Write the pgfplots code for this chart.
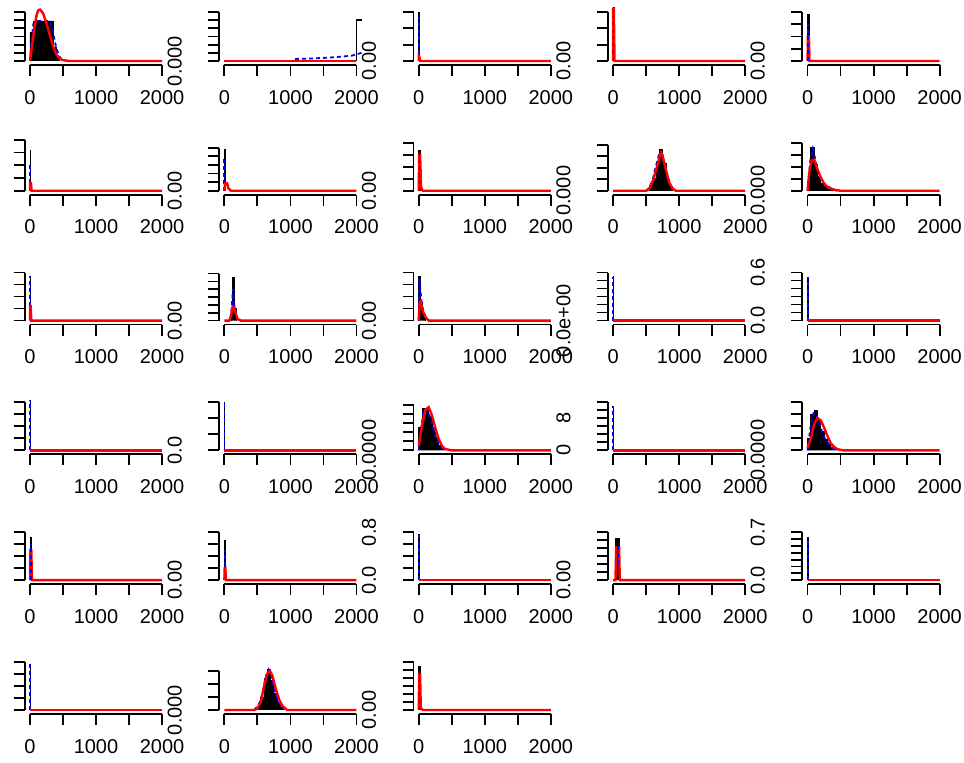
\documentclass[border=0pt]{standalone}
\usepackage{fontspec}
\setmainfont{Liberation Sans}
\usepackage{pgfplots}
\pgfplotsset{compat=1.18}

% 1 px of the reference = 0.5pt
\pgfplotsset{
  hpanel/.style={
    scale only axis, width=71.3pt, height=30pt, anchor=south west,
    xmin=-80, xmax=2080, clip=false,
    axis x line*=bottom, axis y line*=left,
    axis line style={draw=none},
    tick align=outside, major tick length=5.5pt,
    every tick/.style={black, line width=0.9pt},
    xtick={0,500,1000,1500,2000}, xticklabels={0,,1000,,2000},
    tick label style={font=\fontsize{10}{12}\selectfont},
    xticklabel shift=3.5pt,
    yticklabel style={rotate=90, anchor=south, inner sep=0pt},
    yticklabel shift=13pt,
  },
  hist/.style={fill=black, draw=black, line width=0.4pt},
  kde/.style={blue, line width=0.9pt, dash pattern=on 2pt off 1.5pt},
  fit/.style={red, line width=1.2pt},
}

% #1 column, #2 row, #3 top tick index, #4 px height of top tick, #5 tick labels, #6 plots
\newcommand{\panel}[6]{%
  \pgfmathsetmacro\xl{(24.7+194.4*(#1-1))*0.5}%
  \pgfmathsetmacro\yb{(763-65-129.8*(#2-1))*0.5}%
  \pgfmathsetmacro\ylo{-4*#3/#4}%
  \pgfmathsetmacro\yhi{56*#3/#4}%
  \begin{axis}[hpanel, at={(\xl pt,\yb pt)}, ymin=\ylo, ymax=\yhi,
      ytick={0,...,#3}, yticklabels={#5}]
    #6
    \draw[line width=0.9pt] (axis cs:0,\ylo) -- (axis cs:2000,\ylo);
    \draw[line width=0.9pt] (axis cs:-80,0) -- (axis cs:-80,#3);
  \end{axis}}

\newcommand{\bspike}[1]{%
  \addplot[hist] coordinates {(0,0)(0,#1)(6,#1)(6,0)};
  \addplot[kde] coordinates {(3,0)(3,#1)};
  \addplot[fit] coordinates {(0,0)(2000,0)};}

\begin{document}
\begin{tikzpicture}
\path[use as bounding box] (0,0) rectangle (482pt,381.5pt);

% ---- row 1
\panel{1}{1}{6}{49}{}{
  \addplot[hist] coordinates {(0,0)(0,3.5)(50,3.5)(50,4.9)(350,4.9)(350,1.7)(400,1.7)(400,0.4)(450,0.4)(450,0)};
  \addplot[kde] coordinates {(0,0)(25,2.5)(50,4.5)(100,4.9)(300,4.9)(350,3.5)(400,1.5)(450,0.5)(500,0)};
  \addplot[fit] coordinates {(0,0)(25,1.5)(50,3)(75,4.5)(100,5.6)(125,6.2)(150,6.3)(175,6.1)(200,5.8)(250,4.6)(300,3.2)(350,1.8)(400,0.8)(450,0.3)(500,0.1)(600,0)(2000,0)};
}
\panel{2}{1}{6}{49}{0.000}{
  \addplot[black, line width=0.9pt] coordinates {(2000,0)(2000,5)(2080,5)};
  \addplot[kde] coordinates {(1070,0.25)(1300,0.3)(1560,0.4)(1800,0.55)(1930,0.65)(2080,1.0)};
  \addplot[fit] coordinates {(0,0)(2000,0)};
}
\panel{3}{1}{3}{49}{0.00}{
  \addplot[hist] coordinates {(0,0)(0,3.0)(15,3.0)(15,0)};
  \addplot[kde] coordinates {(5,0)(5,2.7)};
  \addplot[fit] coordinates {(0,0)(0,0.4)(20,0)(2000,0)};
}
\panel{4}{1}{3}{49}{0.00}{
  \addplot[hist] coordinates {(0,0)(0,3.3)(15,3.3)(15,0)};
  \addplot[fit] coordinates {(0,0)(0,3.2)(10,3.2)(20,0)(2000,0)};
  \addplot[kde] coordinates {(5,0)(5,3.0)};
}
\panel{5}{1}{4}{49}{0.00}{
  \addplot[hist] coordinates {(0,0)(0,3.8)(20,3.8)(20,0)};
  \addplot[fit] coordinates {(0,0)(5,2.0)(20,2.0)(30,0)(2000,0)};
  \addplot[kde] coordinates {(10,0)(10,3.0)};
}

% ---- row 2
\panel{1}{2}{4}{51}{}{
  \addplot[hist] coordinates {(0,0)(0,3.2)(12,3.2)(12,0)};
  \addplot[kde] coordinates {(6,0.6)(6,2.0)};
  \addplot[fit] coordinates {(0,0)(0,0.6)(15,0.6)(25,0)(2000,0)};
}
\panel{2}{2}{5}{43}{0.00}{
  \addplot[hist] coordinates {(0,0)(0,4.8)(15,4.8)(15,0)};
  \addplot[kde] coordinates {(0,0)(0,4.0)};
  \addplot[fit] coordinates {(0,0)(10,0.9)(40,0.9)(60,0.3)(100,0)(2000,0)};
}
\panel{3}{2}{4}{48}{0.00}{
  \addplot[hist] coordinates {(0,0)(0,3.4)(20,3.4)(20,0)};
  \addplot[fit] coordinates {(0,0)(5,3.0)(20,3.0)(35,0.3)(60,0)(2000,0)};
  \addplot[kde] coordinates {(10,0)(10,3.2)};
}
\panel{4}{2}{4}{46}{0.000}{
  \addplot[hist] coordinates {(550,0)(550,0.5)(600,0.5)(600,1.1)(650,1.1)(650,2.4)(700,2.4)(700,3.6)(750,3.6)(750,2.4)(800,2.4)(800,1.0)(850,1.0)(850,0.4)(900,0.4)(900,0)};
  \addplot[kde] coordinates {(500,0)(550,0.3)(600,1.0)(650,2.2)(700,3.3)(750,3.1)(800,1.6)(850,0.6)(900,0.2)(950,0)};
  \addplot[fit] coordinates {(0,0)(500,0)(550,0.2)(600,0.8)(650,1.8)(700,2.9)(725,3.3)(750,3.0)(800,1.8)(850,0.7)(900,0.2)(950,0)(2000,0)};
}
\panel{5}{2}{4}{48}{0.000}{
  \addplot[hist] coordinates {(0,0)(0,0.8)(50,0.8)(50,3.6)(100,3.6)(100,2.2)(150,2.2)(150,1.2)(200,1.2)(200,0.6)(250,0.6)(250,0.4)(300,0.4)(300,0.2)(350,0.2)(350,0.1)(400,0.1)(400,0)};
  \addplot[kde] coordinates {(0,0)(40,2.5)(80,3.5)(130,2.3)(180,1.2)(250,0.6)(350,0.2)(450,0)};
  \addplot[fit] coordinates {(0,0)(25,1.5)(60,2.5)(100,2.6)(150,1.8)(200,1.1)(250,0.6)(300,0.3)(400,0.1)(500,0)(2000,0)};
}

% ---- row 3
\panel{1}{3}{4}{48}{}{
  \addplot[hist] coordinates {(0,0)(0,3.7)(12,3.7)(12,0)};
  \addplot[kde] coordinates {(6,1.2)(6,3.7)};
  \addplot[fit] coordinates {(0,0)(0,1.2)(10,1.2)(20,0)(2000,0)};
}
\panel{2}{3}{6}{47}{0.00}{
  \addplot[hist] coordinates {(100,0)(100,0.6)(125,0.6)(125,5.5)(150,5.5)(150,1.5)(175,1.5)(175,0)};
  \addplot[kde] coordinates {(100,0.2)(130,4.0)(150,2)(175,1)(200,0.2)(230,0)};
  \addplot[fit] coordinates {(0,0)(75,0)(100,0.6)(125,1.8)(150,1.8)(175,0.8)(200,0.2)(250,0)(2000,0)};
}
\panel{3}{3}{4}{48}{0.00}{
  \addplot[hist] coordinates {(0,0)(0,3.7)(25,3.7)(25,1.5)(50,1.5)(50,0.6)(75,0.6)(75,0.3)(100,0.3)(100,0)};
  \addplot[kde] coordinates {(0,0)(10,3.5)(25,2.5)(50,1.2)(100,0.3)(150,0)};
  \addplot[fit] coordinates {(0,0)(15,1.5)(30,1.6)(60,0.8)(100,0.3)(150,0)(2000,0)};
}
\panel{4}{3}{6}{48}{0.0e+00}{\bspike{5.5}}
\panel{5}{3}{6}{48}{0.0,,,,,,0.6}{\bspike{5.4}}

% ---- row 4
\panel{1}{4}{4}{48}{}{\bspike{4.2}}
\panel{2}{4}{3}{48}{0.0}{\bspike{3.0}}
\panel{3}{4}{5}{45}{0.0000}{
  \addplot[hist] coordinates {(0,0)(0,2.5)(50,2.5)(50,4.7)(100,4.7)(100,4.6)(150,4.6)(150,3.8)(200,3.8)(200,2.6)(250,2.6)(250,1.4)(300,1.4)(300,0.5)(350,0.5)(350,0.1)(400,0.1)(400,0)};
  \addplot[kde] coordinates {(0,0)(25,2)(75,4.4)(125,4.6)(175,3.6)(225,2.2)(275,1.1)(325,0.4)(400,0)};
  \addplot[fit] coordinates {(0,0.5)(50,2.8)(100,4.5)(150,4.8)(200,3.9)(250,2.5)(300,1.3)(350,0.5)(400,0.15)(500,0)(2000,0)};
}
\panel{4}{4}{6}{48}{0,,,,8,,}{\bspike{5.5}}
\panel{5}{4}{4}{48}{0.0000}{
  \addplot[hist] coordinates {(0,0)(0,1.0)(50,1.0)(50,3.0)(100,3.0)(100,3.3)(150,3.3)(150,2.5)(200,2.5)(200,1.6)(250,1.6)(250,0.9)(300,0.9)(300,0.5)(350,0.5)(350,0.25)(400,0.25)(400,0.1)(450,0.1)(450,0)};
  \addplot[kde] coordinates {(0,0)(40,1.8)(90,3.1)(130,3.0)(180,2.2)(250,1.1)(350,0.3)(450,0)};
  \addplot[fit] coordinates {(0,0.2)(50,1.0)(100,2.2)(150,2.7)(200,2.5)(250,1.9)(300,1.2)(350,0.6)(400,0.3)(450,0.1)(550,0)(2000,0)};
}

% ---- row 5
\panel{1}{5}{4}{48}{}{
  \addplot[hist] coordinates {(0,0)(0,3.6)(20,3.6)(20,0)};
  \addplot[fit] coordinates {(0,0)(5,2.5)(20,2.5)(30,0)(2000,0)};
  \addplot[kde] coordinates {(10,0)(10,3.0)};
}
\panel{2}{5}{4}{48}{0.00}{
  \addplot[hist] coordinates {(0,0)(0,3.3)(15,3.3)(15,0)};
  \addplot[kde] coordinates {(5,0)(5,2.5)};
  \addplot[fit] coordinates {(0,0)(5,1.0)(15,1.0)(25,0)(2000,0)};
}
\panel{3}{5}{4}{48}{0.0,,,,0.8}{\bspike{3.8}}
\panel{4}{5}{6}{48}{0.00}{
  \addplot[hist] coordinates {(40,0)(40,5.2)(100,5.2)(100,0)};
  \addplot[fit] coordinates {(0,0)(35,0)(45,4.1)(90,4.1)(100,0)(2000,0)};
  \addplot[kde] coordinates {(70,2.0)(70,4.7)};
}
\panel{5}{5}{7}{48}{0.0,,,,,,,0.7}{\bspike{6.3}}

% ---- row 6
\panel{1}{6}{4}{48}{}{\bspike{3.8}}
\panel{2}{6}{3}{39}{0.000}{
  \addplot[hist] coordinates {(500,0)(500,0.3)(550,0.3)(550,1.0)(600,1.0)(600,2.4)(650,2.4)(650,3.15)(700,3.15)(700,2.3)(750,2.3)(750,1.3)(800,1.3)(800,0.6)(850,0.6)(850,0.2)(900,0.2)(900,0)};
  \addplot[kde] coordinates {(450,0)(520,0.4)(580,1.3)(630,2.6)(670,3.1)(710,2.6)(760,1.5)(820,0.6)(880,0.2)(950,0)};
  \addplot[fit] coordinates {(0,0)(450,0)(500,0.1)(550,0.6)(600,1.8)(650,2.8)(690,3.0)(730,2.6)(780,1.6)(830,0.8)(880,0.3)(950,0)(2000,0)};
}
\panel{3}{6}{6}{48}{0.00}{
  \addplot[hist] coordinates {(0,0)(0,5.5)(20,5.5)(20,0)};
  \addplot[fit] coordinates {(0,0)(5,4.5)(20,4.5)(30,0.3)(60,0)(2000,0)};
  \addplot[kde] coordinates {(10,0)(10,5.0)};
}
\end{tikzpicture}
\end{document}
